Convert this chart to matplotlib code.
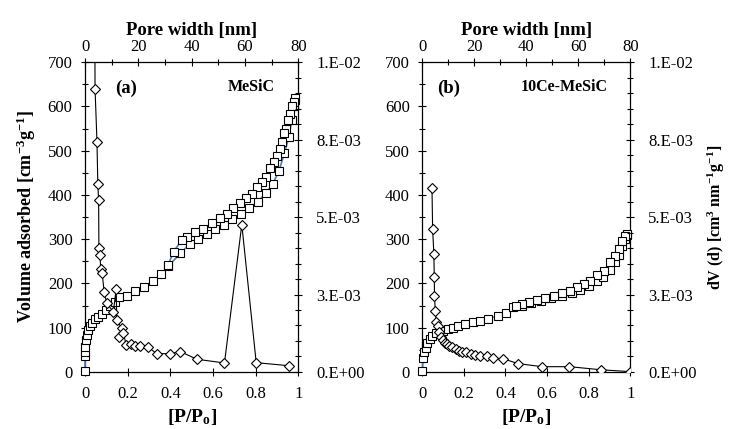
import matplotlib
matplotlib.use('Agg')
import matplotlib.pyplot as plt
from matplotlib.ticker import MultipleLocator, FixedLocator, FixedFormatter, FuncFormatter

plt.rcParams['font.family'] = 'Liberation Serif'
plt.rcParams['mathtext.fontset'] = 'custom'
plt.rcParams['mathtext.rm'] = 'Liberation Serif:bold'
plt.rcParams['mathtext.it'] = 'Liberation Serif:bold'
plt.rcParams['mathtext.bf'] = 'Liberation Serif:bold'

# ---- (a) MeSiC : N2 isotherm, P/Po vs volume adsorbed [cm3/g]
a_ads_p = [0.0, 0.0, 0.0, 0.0, 0.005, 0.011, 0.016, 0.023, 0.031, 0.047, 0.063, 0.078,
           0.099, 0.117, 0.141, 0.161, 0.199, 0.235, 0.277, 0.318, 0.357, 0.391, 0.446,
           0.493, 0.53, 0.57, 0.61, 0.65, 0.69, 0.73, 0.77, 0.81, 0.85, 0.88, 0.91, 0.935,
           0.955, 0.97, 0.98, 0.985]
a_ads_v = [2, 35, 46, 57, 72, 84, 95, 104, 111, 119, 125, 132,
           140, 149, 159, 170, 172, 183, 193, 205, 221, 239, 268,
           290, 300, 312, 322, 333, 345, 357, 370, 385, 405, 425, 455, 495,
           530, 570, 600, 615]
a_des_p = [0.985, 0.978, 0.97, 0.962, 0.95, 0.944, 0.931, 0.923, 0.912, 0.9, 0.884, 0.869,
           0.85, 0.83, 0.806, 0.783, 0.756, 0.728, 0.696, 0.665, 0.631, 0.595, 0.555, 0.516,
           0.477, 0.454, 0.415, 0.39]
a_des_v = [618, 610, 600, 584, 570, 550, 540, 520, 503, 488, 475, 460,
           441, 430, 417, 403, 392, 381, 370, 358, 347, 336, 324, 317,
           305, 298, 272, 242]
# pore size distribution: pore width [nm] vs dV(d) [cm3/nm/g]
a_pw = [3.6, 3.76, 4.48, 4.8, 5.1, 5.2, 5.6, 5.9, 6.4, 7.2, 8.2, 10.6, 11.7, 11.9, 13.8,
        12.6, 14.4, 15.4, 17.4, 18.9, 20.6, 23.8, 26.9, 31.9, 35.7, 41.9, 52.3, 58.8,
        64.2, 76.6]
a_dv = [1.29e-2, 9.14e-3, 7.43e-3, 6.06e-3, 5.54e-3, 4.01e-3, 3.77e-3, 3.31e-3, 3.2e-3,
        2.57e-3, 2.21e-3, 1.94e-3, 2.67e-3, 1.67e-3, 1.41e-3, 1.14e-3, 1.27e-3, 0.87e-3,
        0.91e-3, 0.84e-3, 0.84e-3, 0.79e-3, 0.59e-3, 0.59e-3, 0.66e-3, 0.41e-3, 0.29e-3,
        4.76e-3, 0.30e-3, 0.20e-3]

# ---- (b) 10Ce-MeSiC
b_ads_p = [0.0, 0.005, 0.01, 0.016, 0.025, 0.037, 0.048, 0.064, 0.101, 0.125, 0.149,
           0.173, 0.205, 0.242, 0.277, 0.317, 0.362, 0.401, 0.438, 0.477, 0.525, 0.573,
           0.62, 0.67, 0.72, 0.76, 0.80, 0.84, 0.87, 0.90, 0.925, 0.945, 0.96, 0.975, 0.985]
b_ads_v = [2, 31, 44, 55, 66, 74, 82, 87, 93, 97, 100,
           104, 108, 112, 116, 119, 127, 134, 147, 150, 155, 160,
           166, 172, 178, 185, 194, 205, 215, 230, 248, 265, 285, 300, 310]
b_des_p = [0.984, 0.976, 0.96, 0.944, 0.928, 0.904, 0.872, 0.84, 0.808, 0.776, 0.744,
           0.712, 0.672, 0.631, 0.591, 0.551, 0.511, 0.479, 0.45]
b_des_v = [312, 308, 295, 278, 263, 248, 229, 218, 206, 199, 191,
           184, 178, 172, 168, 163, 157, 153, 149]
b_pw = [3.76, 4.0, 4.48, 4.64, 4.72, 5.04, 5.44, 5.92, 6.56, 7.2, 7.84, 8.64, 9.44, 10.4,
        11.6, 12.8, 14.0, 15.2, 16.8, 18.56, 20.4, 22.4, 24.8, 27.2, 31.0, 36.8, 46.0,
        56.6, 68.7, 80.0]
b_dv = [5.93e-3, 4.61e-3, 3.81e-3, 3.06e-3, 2.44e-3, 1.96e-3, 1.6e-3, 1.49e-3, 1.3e-3,
        1.14e-3, 1.03e-3, 0.94e-3, 0.89e-3, 0.83e-3, 0.79e-3, 0.73e-3, 0.69e-3, 0.66e-3,
        0.63e-3, 0.59e-3, 0.54e-3, 0.51e-3, 0.51e-3, 0.44e-3, 0.43e-3, 0.27e-3, 0.17e-3,
        0.17e-3, 0.07e-3, 0.01e-3]

dv_ticks = [0, 0.0025, 0.005, 0.0075, 0.01]
dv_labels = ['0.E+00', '3.E-03', '5.E-03', '8.E-03', '1.E-02']


def panel(fig, rect, ads_p, ads_v, des_p, des_v, pw, dv, tag, name, left_label, right_label):
    ax = fig.add_axes(rect)
    sq = dict(color='#4a7ebb', lw=1.2, marker='s', ms=5.8, mfc='white', mec='black',
              mew=0.8, clip_on=False, zorder=3)
    ax.plot(ads_p, ads_v, **sq)
    ax.plot(des_p, des_v, **sq)
    ax.set_xlim(0, 1)
    ax.set_ylim(0, 700)
    ax.xaxis.set_major_locator(MultipleLocator(0.2))
    ax.xaxis.set_major_formatter(FuncFormatter(lambda v, p: f'{v:g}'))
    ax.yaxis.set_major_locator(MultipleLocator(100))
    ax.yaxis.set_minor_locator(MultipleLocator(50))
    ax.tick_params(which='major', direction='inout', length=6, width=0.8, labelsize=12)
    ax.tick_params(which='minor', direction='inout', length=4, width=0.8)
    ax.tick_params(axis='y', pad=6)
    ax.tick_params(axis='x', pad=7)
    ax.set_xlabel('[P/P$_\\mathrm{o}$]', fontsize=14, fontweight='bold', labelpad=4)
    if left_label:
        ax.set_ylabel(left_label, fontsize=13, fontweight='bold', labelpad=7)
    for s in ax.spines.values():
        s.set_linewidth(0.9)

    ax2 = fig.add_axes(rect, frameon=False)
    ax2.plot(pw, dv, color='black', lw=0.8, marker='D', ms=5.5, mfc='white', mec='black',
             mew=0.8, zorder=4)
    ax2.set_xlim(0, 80)
    ax2.set_ylim(0, 0.01)
    ax2.xaxis.tick_top()
    ax2.xaxis.set_label_position('top')
    ax2.yaxis.tick_right()
    ax2.yaxis.set_label_position('right')
    ax2.xaxis.set_major_locator(MultipleLocator(20))
    ax2.xaxis.set_minor_locator(MultipleLocator(10))
    ax2.yaxis.set_major_locator(FixedLocator(dv_ticks))
    ax2.yaxis.set_major_formatter(FixedFormatter(dv_labels))
    ax2.yaxis.set_minor_locator(MultipleLocator(0.0005))
    ax2.tick_params(which='major', direction='inout', length=6, width=0.8, labelsize=12)
    ax2.tick_params(which='minor', direction='inout', length=4, width=0.8)
    ax2.tick_params(axis='y', pad=10)
    ax2.tick_params(axis='x', pad=2)
    ax2.set_xlabel('Pore width [nm]', fontsize=13.5, fontweight='bold', labelpad=3)
    if right_label:
        ax2.set_ylabel(right_label, fontsize=11.5, fontweight='bold', labelpad=6)

    ax.text(tag[1], 0.915, tag[0], transform=ax.transAxes, fontsize=13.5, fontweight='bold',
            ha='left', va='center')
    ax.text(0.89, 0.92, name, transform=ax.transAxes, fontsize=11.5, fontweight='bold',
            ha='right', va='center')
    return ax, ax2


fig = plt.figure(figsize=(7.33, 4.29), dpi=100)
panel(fig, [0.116, 0.133, 0.291, 0.722], a_ads_p, a_ads_v, a_des_p, a_des_v, a_pw, a_dv,
      ('(a)', 0.14), 'MeSiC', 'Volume adsorbed [cm$^{-3}$g$^{-1}$]', None)
panel(fig, [0.576, 0.133, 0.284, 0.722], b_ads_p, b_ads_v, b_des_p, b_des_v, b_pw, b_dv,
      ('(b)', 0.07), '10Ce-MeSiC', None, 'dV (d) [cm$^{3}$ nm$^{-1}$g$^{-1}$]')

fig.savefig('out.png', dpi=100)
